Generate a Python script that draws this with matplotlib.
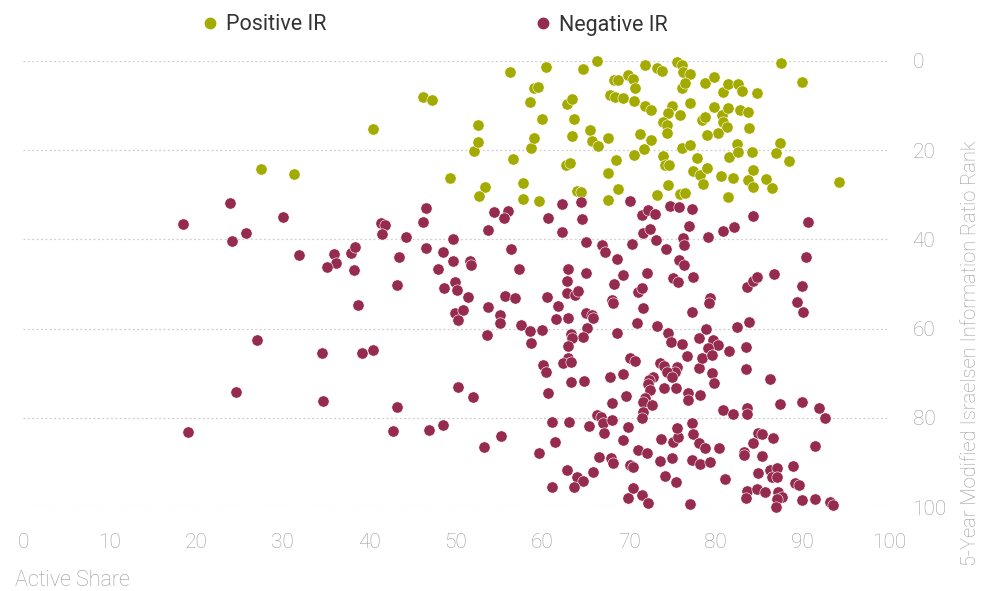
import matplotlib
matplotlib.use("Agg")
import matplotlib.pyplot as plt
from matplotlib.lines import Line2D

plt.rcParams['font.family'] = ['Roboto', 'DejaVu Sans']
plt.rcParams['font.weight'] = 'light'

# active share (x) and information-ratio rank (y), positive IR funds
pos_share = [27.5, 31.3, 40.4, 46.2, 47.2, 49.3, 52.1, 52.5, 52.5, 53.3,
             52.7, 56.2, 56.6, 57.7, 57.7, 58.5, 59.0, 59.5, 58.7, 59.0,
             59.6, 59.9, 60.4, 62.7, 63.2, 62.8, 63.4, 63.6, 63.4, 64.0,
             64.4, 64.7, 65.5, 65.7, 66.4, 66.3, 67.8, 68.4, 69.3, 70.6,
             71.8, 72.5, 67.6, 67.6, 67.6, 68.5, 68.7, 68.2, 68.7, 69.9,
             70.4, 70.7, 70.6, 71.7, 72.5, 71.2, 71.8, 73.2, 73.8, 75.5,
             76.1, 76.2, 77.0, 74.9, 74.5, 73.9, 74.4, 74.4, 75.9, 77.0,
             76.1, 76.4, 78.8, 79.8, 80.8, 81.4, 82.6, 83.0, 84.8, 78.4,
             78.8, 79.8, 80.7, 80.8, 81.4, 81.3, 80.3, 79.0, 82.8, 83.7,
             83.8, 73.9, 74.1, 74.6, 73.2, 74.5, 75.9, 76.4, 76.1, 77.0,
             77.8, 77.4, 78.2, 79.0, 78.5, 80.6, 82.0, 81.4, 81.5, 82.5,
             82.6, 84.2, 84.3, 83.7, 84.3, 87.5, 89.9,
             87.4, 87.0, 88.5, 85.8, 86.5, 94.2]
pos_rank = [24.2, 25.4, 15.3, 8.1, 8.8, 26.3, 20.2, 14.4, 18.2, 28.3,
            30.3, 2.5, 22.0, 27.4, 31.0, 9.2, 6.1, 5.8, 19.5, 17.3,
            31.4, 13.0, 1.3, 23.3, 22.9, 9.6, 8.5, 13.0, 16.8, 29.2,
            29.4, 1.8, 15.5, 17.9, 19.1, 0.0, 7.6, 8.1, 8.3, 9.0,
            10.1, 11.0, 17.3, 25.1, 31.2, 22.2, 28.7, 4.3, 4.3, 3.1,
            4.0, 6.1, 21.1, 19.7, 17.7, 16.4, 0.9, 1.6, 2.2, 0.2,
            0.9, 2.5, 2.9, 10.1, 11.7, 13.7, 14.4, 16.2, 12.1, 9.4,
            6.1, 4.9, 4.9, 3.6, 7.0, 5.2, 5.2, 6.7, 7.2, 13.2,
            12.6, 10.3, 12.1, 13.7, 10.5, 14.8, 16.2, 16.6, 11.0, 11.4,
            15.0, 21.3, 23.3, 23.3, 30.1, 27.8, 29.8, 29.6, 19.5, 18.8,
            21.8, 24.7, 25.6, 24.0, 27.6, 25.8, 26.3, 30.5, 21.5, 18.6,
            20.4, 20.4, 24.5, 26.7, 28.3, 0.4, 4.7,
            18.4, 20.6, 22.4, 26.5, 28.5, 27.1]

# negative IR funds
neg_share = [18.5, 23.9, 24.1, 25.8, 30.0, 31.9, 35.9, 36.1, 35.1, 37.9,
             38.3, 38.2, 38.7, 41.3, 41.8, 41.4, 44.2, 43.4, 43.2, 46.2,
             46.5, 46.5, 48.5, 47.9, 48.6, 27.0, 34.5, 39.1, 40.4, 24.6,
             34.6, 43.2, 19.0, 42.7, 46.9, 48.5, 49.6, 49.6, 51.6, 51.7,
             49.9, 50.1, 51.4, 49.9, 50.8, 50.2, 53.7, 55.1, 55.1, 53.6,
             54.4, 56.0, 55.5, 53.7, 56.3, 57.3, 55.7, 56.8, 50.2, 52.0,
             55.2, 53.2, 57.5, 58.5, 58.7, 59.9, 60.5, 61.8, 61.5, 62.9,
             62.8, 62.9, 62.8, 63.7, 64.1, 65.0, 65.0, 65.7, 65.8, 65.1,
             64.7, 63.3, 63.4, 62.9, 62.9, 62.4, 63.3, 60.0, 60.4, 63.3,
             64.8, 60.6, 61.1, 63.1, 61.4, 59.6, 65.4, 66.3, 66.7, 67.0,
             67.1, 66.5, 65.8, 62.8, 64.0, 64.7, 63.6, 61.1, 60.6, 62.2,
             62.2, 64.4, 64.5, 65.0, 66.9, 67.2, 68.6, 68.2, 69.3, 68.0,
             68.1, 67.8, 69.3, 69.6, 68.0, 68.0, 69.9, 69.3, 67.9, 68.1,
             70.1, 70.4, 71.0, 72.1, 73.6, 75.0, 74.1, 75.4, 70.4, 69.9,
             71.5, 72.2, 77.0, 77.3, 78.2, 79.3, 73.7, 75.1, 75.6, 75.5,
             77.3, 77.4, 78.1, 78.8, 80.4, 70.1, 71.5, 72.2, 73.0, 74.7,
             75.8, 77.3, 76.9, 71.6, 72.4, 73.1, 70.3, 74.3, 76.2, 76.3,
             75.8, 76.3, 72.1, 75.1, 75.6, 77.4, 71.0, 71.5, 71.6, 70.9,
             68.6, 73.2, 74.5, 74.8, 76.1, 77.2, 70.1, 70.7, 73.6, 74.0,
             75.5, 75.3, 74.4, 74.9, 72.8, 72.3, 72.2, 72.4, 74.0, 75.4,
             71.8, 71.6, 72.6, 71.6, 71.5, 76.7, 76.8, 76.8, 78.2, 78.1,
             78.4, 79.6, 79.8, 79.1, 80.8, 82.1, 84.3, 79.3, 79.2, 78.9,
             78.1, 79.7, 80.2, 79.1, 79.6, 81.5, 82.5, 83.8, 83.5, 83.5,
             83.6, 84.3, 84.8, 86.7, 89.9, 89.4, 90.1, 90.7, 90.4, 80.8,
             82.0, 83.6, 83.6, 84.9, 84.3, 83.3, 83.2, 84.9, 81.1, 83.6,
             83.5, 84.8, 86.3, 87.4, 90.0, 91.9, 92.6, 85.3, 86.6, 91.4,
             85.3, 88.9, 86.3, 87.1, 86.5, 87.1, 89.2, 89.6, 85.7, 87.2,
             87.7, 87.1, 86.9, 90.0, 91.4, 93.2, 93.5]
neg_rank = [36.6, 31.9, 40.4, 38.6, 35.0, 43.5, 43.3, 45.3, 46.2, 43.1,
            41.7, 46.9, 54.7, 36.3, 36.8, 38.8, 39.5, 44.0, 50.3, 36.1,
            33.0, 42.0, 42.9, 46.7, 50.9, 62.6, 65.5, 65.5, 64.8, 74.3,
            76.3, 77.6, 83.2, 83.0, 82.8, 81.7, 39.9, 44.9, 44.9, 45.8,
            49.6, 51.4, 53.0, 56.5, 55.9, 58.1, 55.2, 57.0, 58.8, 61.5,
            33.9, 33.7, 35.2, 37.9, 42.2, 46.7, 52.7, 53.2, 73.1, 75.4,
            84.1, 86.6, 59.2, 60.6, 63.3, 60.4, 52.9, 55.0, 57.9, 57.7,
            49.4, 46.7, 52.1, 52.5, 51.6, 47.6, 56.5, 57.0, 57.7, 59.9,
            61.9, 61.3, 62.2, 63.9, 66.6, 67.8, 67.5, 68.2, 69.8, 72.0,
            71.8, 74.5, 81.0, 81.0, 85.5, 87.9, 81.9, 79.4, 79.9, 81.2,
            83.5, 88.8, 92.2, 91.8, 93.3, 94.2, 95.6, 95.4, 35.2, 32.1,
            38.4, 31.6, 35.5, 40.6, 41.3, 42.9, 44.4, 50.0, 48.0, 53.6,
            54.3, 70.9, 70.2, 75.2, 76.7, 80.5, 82.1, 85.0, 89.1, 90.2,
            90.6, 91.1, 87.3, 88.0, 89.7, 89.1, 93.1, 94.5, 95.8, 98.0,
            97.2, 99.2, 99.4, 89.5, 90.4, 90.0, 84.8, 85.5, 84.4, 82.3,
            81.2, 83.7, 85.7, 86.8, 86.8, 31.4, 34.6, 33.4, 34.3, 32.5,
            32.8, 33.2, 37.0, 38.6, 37.7, 40.2, 41.1, 42.2, 39.7, 41.3,
            44.6, 45.8, 47.6, 48.7, 49.6, 48.5, 51.8, 50.9, 55.4, 58.8,
            61.0, 59.5, 61.0, 63.0, 63.5, 56.3, 66.6, 67.3, 67.8, 68.4,
            68.7, 69.8, 69.8, 70.9, 70.9, 71.6, 72.5, 73.8, 73.4, 73.4,
            75.6, 76.5, 77.2, 78.8, 80.1, 66.2, 74.5, 76.1, 74.9, 68.9,
            66.6, 70.0, 72.2, 39.5, 38.1, 37.2, 34.8, 53.2, 54.3, 60.1,
            62.2, 62.6, 63.7, 64.4, 66.0, 65.1, 59.7, 58.6, 64.2, 69.1,
            50.7, 49.4, 48.5, 47.8, 50.5, 54.1, 56.3, 36.1, 44.0, 78.3,
            79.2, 77.9, 79.2, 83.5, 85.7, 87.7, 88.4, 92.4, 93.8, 96.3,
            98.0, 96.0, 71.3, 77.0, 76.5, 77.9, 80.1, 83.7, 84.6, 86.4,
            88.6, 90.9, 91.8, 91.3, 93.3, 93.3, 94.7, 95.1, 96.7, 96.7,
            97.8, 98.3, 100.1, 98.5, 98.3, 98.9, 99.6]

olive = '#a3ab00'
maroon = '#952c50'
grey = '#9b9b9b'

fig = plt.figure(figsize=(9.82, 5.91), dpi=100)
ax = fig.add_axes([0.0234, 0.1421, 0.8819, 0.7547])

ax.scatter(pos_share, pos_rank, s=66, color=olive, edgecolors='white',
           linewidths=0.4, zorder=3, clip_on=False)
ax.scatter(neg_share, neg_rank, s=66, color=maroon, edgecolors='white',
           linewidths=0.4, zorder=3, clip_on=False)

ax.set_xlim(0, 100)
ax.set_ylim(100, 0)
ax.set_xticks(range(0, 101, 10))
ax.set_yticks(range(0, 101, 20))
ax.yaxis.tick_right()
ax.tick_params(axis='x', length=0, pad=19, labelsize=15, labelcolor=grey)
ax.tick_params(axis='y', length=0, pad=17, labelsize=15, labelcolor=grey)
for lab in ax.get_yticklabels():
    lab.set_horizontalalignment('left')

ax.grid(axis='y', linestyle=(0, (1.5, 2)), color='#cfcfcf', linewidth=0.9, zorder=0)
for s in ax.spines.values():
    s.set_visible(False)

fig.text(15 / 982, 1 - 586 / 591, 'Active Share', fontsize=15.5, color=grey,
         ha='left', va='baseline')
fig.text(970 / 982, 1 - 140 / 591, '5-Year Modified Israelsen Information Ratio Rank',
         fontsize=14.5, color=grey, rotation=90, ha='center', va='top')

# legend: two entries placed apart
for label, col, xpos in [('Positive IR', olive, 204), ('Negative IR', maroon, 537)]:
    h = Line2D([], [], marker='o', linestyle='none', markersize=7.5,
               markerfacecolor=col, markeredgecolor=col)
    fig.legend([h], [label], loc='center left', frameon=False,
               bbox_to_anchor=(xpos / 982, 1 - 25 / 591),
               handlelength=0.6, handletextpad=0.4, borderpad=0,
               borderaxespad=0, prop={'size': 15.5, 'weight': 'normal'},
               labelcolor='#333333')

fig.savefig('out.png', dpi=100)
